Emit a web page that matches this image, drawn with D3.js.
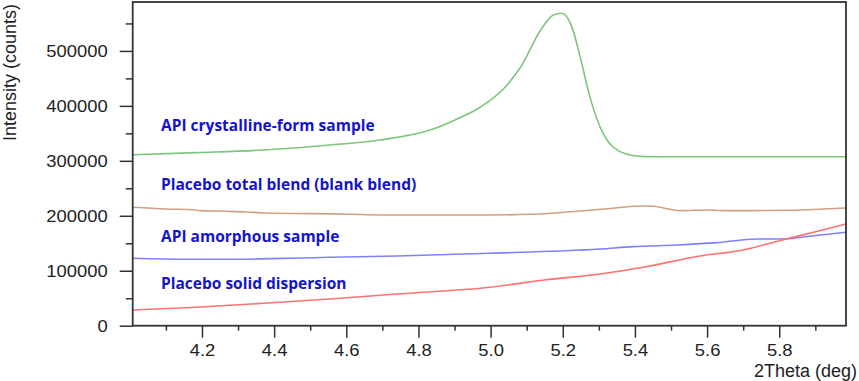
<!DOCTYPE html>
<html><head><meta charset="utf-8">
<script src="https://cdn.jsdelivr.net/npm/d3@7/dist/d3.min.js"></script>
<style>body{margin:0;background:#fff}svg{display:block}</style>
</head><body>
<svg id="chart" width="859" height="381"></svg>
<script>
// ---- data ----
const seriesNames = ["API crystalline-form sample", "Placebo total blend (blank blend)", "API amorphous sample", "Placebo solid dispersion"];

const crystallineTheta = [4.008,4.185,4.37,4.555,4.693,4.832,4.90,4.971,5.040,5.081,5.142,5.174,5.197,5.225,5.248,5.275,5.303,5.331,5.359,5.386,5.433,5.525,5.7,5.985];
const crystallineCounts = [311000,315000,319800,328900,338000,356000,374000,397500,434000,468500,541300,565500,568600,544200,489600,416800,362200,330700,316700,310700,307600,307500,307500,307500];

const blendTheta = [4.008,4.10,4.176,4.194,4.268,4.324,4.375,4.504,4.61,4.689,4.85,5.0,5.118,5.257,5.34,5.414,5.451,5.497,5.525,5.599,5.645,5.83,5.922,5.985];
const blendCounts = [215500,212400,211100,209300,208200,207000,205100,203900,202800,201500,201500,201500,202800,209300,213700,217900,217300,211900,209300,210600,209300,210000,212400,214200];

const amorphousTheta = [4.008,4.158,4.278,4.389,4.555,4.74,4.998,5.303,5.395,5.516,5.627,5.737,5.811,5.895,5.985];
const amorphousCounts = [122700,120900,120900,122000,124500,126900,131800,139600,143800,146900,151100,157800,157800,163800,170000];

const dispersionTheta = [4.008,4.185,4.37,4.555,4.74,4.998,5.149,5.303,5.423,5.58,5.70,5.80,5.895,5.985];
const dispersionCounts = [28600,33500,40800,48600,57700,69900,83200,94100,106300,126900,137800,154700,170000,185100];

const yTicks = [0,100000,200000,300000,400000,500000];
const yMinorTicks = [50000,150000,250000,350000,450000,550000];
const xTicks = [4.2,4.4,4.6,4.8,5.0,5.2,5.4,5.6,5.8];
const xMinorTicks = [4.1,4.3,4.5,4.7,4.9,5.1,5.3,5.5,5.7,5.9];
const xDomain = [4.008, 5.985];
const yDomain = [0, 589000];
const xTitle = "2Theta (deg)";
const yTitle = "Intensity (counts)";

// ---- layout / style ----
const L = 132.7, R = 846, T = 2, B = 325.7;
const colors = ["#7cc67c", "#d29f86", "#8080ff", "#ff7070"];
const labelPos = [[161,131],[161,190],[161,241.5],[161,288.5]];
const axisColor = "#333";
const hScale = 1.15;

const svg = d3.select("#chart");
const x = d3.scaleLinear().domain(xDomain).range([L, R]);
const y = d3.scaleLinear().domain(yDomain).range([B, T]);

svg.append("defs").append("clipPath").attr("id","clip")
  .append("rect").attr("x",L).attr("y",T).attr("width",R-L).attr("height",B-T);

const series = [
  [crystallineTheta, crystallineCounts],
  [blendTheta, blendCounts],
  [amorphousTheta, amorphousCounts],
  [dispersionTheta, dispersionCounts]
];

const line = d3.line().x(d=>x(d[0])).y(d=>y(d[1])).curve(d3.curveMonotoneX);
const gLines = svg.append("g").attr("clip-path","url(#clip)");
series.forEach((s,i)=>{
  const pts = s[0].map((t,j)=>[t, s[1][j]]);
  gLines.append("path").datum(pts).attr("d", line)
    .attr("fill","none").attr("stroke", colors[i]).attr("stroke-width",1.6)
    .attr("stroke-linejoin","round");
});

// labels
seriesNames.forEach((n,i)=>{
  svg.append("text").attr("x",labelPos[i][0]).attr("y",labelPos[i][1])
    .attr("font-family","'Open Sans', 'Noto Sans', sans-serif").attr("font-weight",700)
    .attr("font-size",15.5).attr("fill","#1414cc").text(n);
});

// y axis
const yAxis = svg.append("g").attr("transform",`translate(${L},0)`)
  .call(d3.axisLeft(y).tickValues(yTicks).tickSize(13).tickSizeOuter(0).tickFormat(d3.format("d")));
yAxis.select(".domain").remove();
yAxis.selectAll(".tick line").attr("stroke",axisColor).attr("stroke-width",1.5);
yAxis.selectAll(".tick text")
  .attr("x",0).attr("dy","0.34em")
  .attr("transform",`translate(-25,0) scale(${hScale},1)`)
  .attr("font-family","'Liberation Sans', Arial, sans-serif").attr("font-size",16).attr("fill","#222");
const yMinor = svg.append("g").attr("transform",`translate(${L},0)`)
  .call(d3.axisLeft(y).tickValues(yMinorTicks).tickSize(7).tickFormat(""));
yMinor.select(".domain").remove();
yMinor.selectAll(".tick line").attr("stroke",axisColor).attr("stroke-width",1.5);

// x axis
const xAxis = svg.append("g").attr("transform",`translate(0,${B})`)
  .call(d3.axisBottom(x).tickValues(xTicks).tickSize(12).tickFormat(d3.format(".1f")));
xAxis.select(".domain").remove();
xAxis.selectAll(".tick line").attr("stroke",axisColor).attr("stroke-width",1.5);
xAxis.selectAll(".tick text")
  .attr("y",30).attr("dy",0)
  .attr("transform",`scale(${hScale},1)`)
  .attr("font-family","'Liberation Sans', Arial, sans-serif").attr("font-size",16).attr("fill","#222");
const xMinor = svg.append("g").attr("transform",`translate(0,${B})`)
  .call(d3.axisBottom(x).tickValues(xMinorTicks).tickSize(5).tickFormat(""));
xMinor.select(".domain").remove();
xMinor.selectAll(".tick line").attr("stroke",axisColor).attr("stroke-width",1.5);

// frame
svg.append("rect").attr("x",L).attr("y",T).attr("width",R-L).attr("height",B-T)
  .attr("fill","none").attr("stroke",axisColor).attr("stroke-width",1.8);

// titles
svg.append("text").attr("x",857).attr("y",377).attr("text-anchor","end")
  .attr("font-family","'Liberation Sans', Arial, sans-serif").attr("font-size",18).attr("fill","#222").text(xTitle);
svg.append("text").attr("transform","translate(16,4) rotate(-90)").attr("text-anchor","end")
  .attr("font-family","'Liberation Sans', Arial, sans-serif").attr("font-size",18).attr("fill","#222").text(yTitle);
</script>
</body></html>
